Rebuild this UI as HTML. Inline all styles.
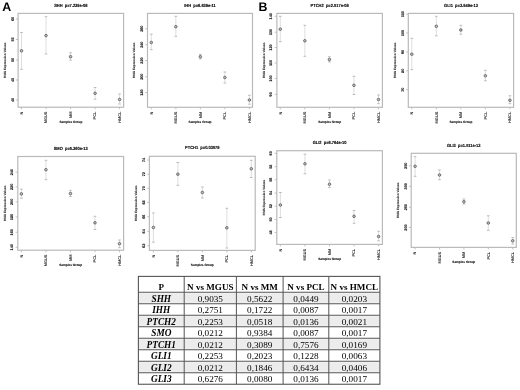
<!DOCTYPE html>
<html><head><meta charset="utf-8"><style>
html,body{margin:0;padding:0;background:#fff;}
body{width:520px;height:390px;overflow:hidden;}
svg{display:block;will-change:transform;}
.g text{text-rendering:geometricPrecision;}
.ti{white-space:pre;font-family:"Liberation Sans",sans-serif;font-weight:bold;font-size:4.45px;text-anchor:middle;fill:#000;stroke:#000;stroke-width:0.12px;}
.yt{font-family:"Liberation Sans",sans-serif;font-weight:bold;font-size:3.8px;text-anchor:middle;fill:#111;stroke:#111;stroke-width:0.1px;}
.yl{font-family:"Liberation Sans",sans-serif;font-weight:bold;font-size:3.15px;text-anchor:middle;fill:#333;stroke:#333;stroke-width:0.08px;}
.xt{font-family:"Liberation Sans",sans-serif;font-weight:bold;font-size:3.9px;text-anchor:end;fill:#111;}
.xl{font-family:"Liberation Sans",sans-serif;font-weight:bold;font-size:3.1px;text-anchor:middle;fill:#111;stroke:#111;stroke-width:0.1px;}
.pl{font-family:"Liberation Sans",sans-serif;font-weight:bold;font-size:12.4px;fill:#000;}
.th{font-family:"Liberation Serif",serif;font-weight:bold;font-size:9.1px;text-anchor:middle;fill:#000;}
.tg{font-family:"Liberation Serif",serif;font-weight:bold;font-style:italic;font-size:9.3px;text-anchor:middle;fill:#000;}
.tv{font-family:"Liberation Serif",serif;font-size:9.2px;text-anchor:middle;fill:#000;}
</style></head><body>
<svg width="520" height="390" viewBox="0 0 520 390">
<g class="g">
<text transform="translate(70.85,6.55) scale(0.9,1)" class="ti">SHH  p=7.239e-08</text>
<rect x="18.10" y="13.40" width="105.50" height="93.80" fill="none" stroke="#bababa" stroke-width="1.2"/>
<line x1="15.90" y1="19.00" x2="18.10" y2="19.00" stroke="#bababa" stroke-width="0.9"/>
<text transform="translate(13.50,19.00) rotate(-90)" class="yt">60</text>
<line x1="15.90" y1="39.50" x2="18.10" y2="39.50" stroke="#bababa" stroke-width="0.9"/>
<text transform="translate(13.50,39.50) rotate(-90)" class="yt">55</text>
<line x1="15.90" y1="60.00" x2="18.10" y2="60.00" stroke="#bababa" stroke-width="0.9"/>
<text transform="translate(13.50,60.00) rotate(-90)" class="yt">50</text>
<line x1="15.90" y1="80.00" x2="18.10" y2="80.00" stroke="#bababa" stroke-width="0.9"/>
<text transform="translate(13.50,80.00) rotate(-90)" class="yt">45</text>
<line x1="15.90" y1="100.00" x2="18.10" y2="100.00" stroke="#bababa" stroke-width="0.9"/>
<text transform="translate(13.50,100.00) rotate(-90)" class="yt">40</text>
<text transform="translate(5.90,60.30) rotate(-90)" class="yl">RMA Expression Values</text>
<line x1="21.50" y1="107.20" x2="21.50" y2="109.20" stroke="#bababa" stroke-width="0.9"/>
<text transform="translate(22.80,111.60) rotate(-90)" class="xt">N</text>
<line x1="46.02" y1="107.20" x2="46.02" y2="109.20" stroke="#bababa" stroke-width="0.9"/>
<text transform="translate(47.32,111.60) rotate(-90)" class="xt">MGUS</text>
<line x1="70.55" y1="107.20" x2="70.55" y2="109.20" stroke="#bababa" stroke-width="0.9"/>
<text transform="translate(71.85,111.60) rotate(-90)" class="xt">MM</text>
<line x1="95.07" y1="107.20" x2="95.07" y2="109.20" stroke="#bababa" stroke-width="0.9"/>
<text transform="translate(96.37,111.60) rotate(-90)" class="xt">PCL</text>
<line x1="119.60" y1="107.20" x2="119.60" y2="109.20" stroke="#bababa" stroke-width="0.9"/>
<text transform="translate(120.90,111.60) rotate(-90)" class="xt">HMCL</text>
<text x="70.85" y="122.90" class="xl">Samples Group</text>
<line x1="21.50" y1="32.50" x2="21.50" y2="69.30" stroke="#d0d0d0" stroke-width="0.7"/>
<line x1="20.20" y1="32.50" x2="22.80" y2="32.50" stroke="#b4b4b4" stroke-width="0.9"/>
<line x1="20.20" y1="69.30" x2="22.80" y2="69.30" stroke="#b4b4b4" stroke-width="0.9"/>
<circle cx="21.50" cy="50.80" r="1.3" fill="#c0c0c0" stroke="#505050" stroke-width="0.75"/>
<line x1="46.02" y1="16.70" x2="46.02" y2="53.90" stroke="#d0d0d0" stroke-width="0.7"/>
<line x1="44.73" y1="16.70" x2="47.32" y2="16.70" stroke="#b4b4b4" stroke-width="0.9"/>
<line x1="44.73" y1="53.90" x2="47.32" y2="53.90" stroke="#b4b4b4" stroke-width="0.9"/>
<circle cx="46.02" cy="35.60" r="1.3" fill="#c0c0c0" stroke="#505050" stroke-width="0.75"/>
<line x1="70.55" y1="52.70" x2="70.55" y2="60.20" stroke="#d0d0d0" stroke-width="0.7"/>
<line x1="69.25" y1="52.70" x2="71.85" y2="52.70" stroke="#b4b4b4" stroke-width="0.9"/>
<line x1="69.25" y1="60.20" x2="71.85" y2="60.20" stroke="#b4b4b4" stroke-width="0.9"/>
<circle cx="70.55" cy="56.70" r="1.3" fill="#c0c0c0" stroke="#505050" stroke-width="0.75"/>
<line x1="95.07" y1="87.50" x2="95.07" y2="99.20" stroke="#d0d0d0" stroke-width="0.7"/>
<line x1="93.77" y1="87.50" x2="96.37" y2="87.50" stroke="#b4b4b4" stroke-width="0.9"/>
<line x1="93.77" y1="99.20" x2="96.37" y2="99.20" stroke="#b4b4b4" stroke-width="0.9"/>
<circle cx="95.07" cy="93.30" r="1.3" fill="#c0c0c0" stroke="#505050" stroke-width="0.75"/>
<line x1="119.60" y1="94.00" x2="119.60" y2="104.00" stroke="#d0d0d0" stroke-width="0.7"/>
<line x1="118.30" y1="94.00" x2="120.90" y2="94.00" stroke="#b4b4b4" stroke-width="0.9"/>
<line x1="118.30" y1="104.00" x2="120.90" y2="104.00" stroke="#b4b4b4" stroke-width="0.9"/>
<circle cx="119.60" cy="99.50" r="1.3" fill="#c0c0c0" stroke="#505050" stroke-width="0.75"/>
<text transform="translate(200.00,6.55) scale(0.9,1)" class="ti">IHH  p=6.639e-11</text>
<rect x="147.50" y="13.40" width="105.00" height="93.90" fill="none" stroke="#bababa" stroke-width="1.2"/>
<line x1="145.30" y1="28.70" x2="147.50" y2="28.70" stroke="#bababa" stroke-width="0.9"/>
<text transform="translate(142.90,28.70) rotate(-90)" class="yt">260</text>
<line x1="145.30" y1="44.70" x2="147.50" y2="44.70" stroke="#bababa" stroke-width="0.9"/>
<text transform="translate(142.90,44.70) rotate(-90)" class="yt">240</text>
<line x1="145.30" y1="60.50" x2="147.50" y2="60.50" stroke="#bababa" stroke-width="0.9"/>
<text transform="translate(142.90,60.50) rotate(-90)" class="yt">220</text>
<line x1="145.30" y1="76.70" x2="147.50" y2="76.70" stroke="#bababa" stroke-width="0.9"/>
<text transform="translate(142.90,76.70) rotate(-90)" class="yt">200</text>
<line x1="145.30" y1="92.50" x2="147.50" y2="92.50" stroke="#bababa" stroke-width="0.9"/>
<text transform="translate(142.90,92.50) rotate(-90)" class="yt">180</text>
<text transform="translate(135.30,60.35) rotate(-90)" class="yl">RMA Expression Values</text>
<line x1="151.30" y1="107.30" x2="151.30" y2="109.30" stroke="#bababa" stroke-width="0.9"/>
<text transform="translate(152.60,111.70) rotate(-90)" class="xt">N</text>
<line x1="175.83" y1="107.30" x2="175.83" y2="109.30" stroke="#bababa" stroke-width="0.9"/>
<text transform="translate(177.13,111.70) rotate(-90)" class="xt">MGUS</text>
<line x1="200.35" y1="107.30" x2="200.35" y2="109.30" stroke="#bababa" stroke-width="0.9"/>
<text transform="translate(201.65,111.70) rotate(-90)" class="xt">MM</text>
<line x1="224.88" y1="107.30" x2="224.88" y2="109.30" stroke="#bababa" stroke-width="0.9"/>
<text transform="translate(226.18,111.70) rotate(-90)" class="xt">PCL</text>
<line x1="249.40" y1="107.30" x2="249.40" y2="109.30" stroke="#bababa" stroke-width="0.9"/>
<text transform="translate(250.70,111.70) rotate(-90)" class="xt">HMCL</text>
<text x="200.00" y="123.00" class="xl">Samples Group</text>
<line x1="151.30" y1="34.20" x2="151.30" y2="49.70" stroke="#d0d0d0" stroke-width="0.7"/>
<line x1="150.00" y1="34.20" x2="152.60" y2="34.20" stroke="#b4b4b4" stroke-width="0.9"/>
<line x1="150.00" y1="49.70" x2="152.60" y2="49.70" stroke="#b4b4b4" stroke-width="0.9"/>
<circle cx="151.30" cy="42.50" r="1.3" fill="#c0c0c0" stroke="#505050" stroke-width="0.75"/>
<line x1="175.83" y1="16.30" x2="175.83" y2="36.30" stroke="#d0d0d0" stroke-width="0.7"/>
<line x1="174.53" y1="16.30" x2="177.13" y2="16.30" stroke="#b4b4b4" stroke-width="0.9"/>
<line x1="174.53" y1="36.30" x2="177.13" y2="36.30" stroke="#b4b4b4" stroke-width="0.9"/>
<circle cx="175.83" cy="26.70" r="1.3" fill="#c0c0c0" stroke="#505050" stroke-width="0.75"/>
<line x1="200.35" y1="54.50" x2="200.35" y2="58.90" stroke="#d0d0d0" stroke-width="0.7"/>
<line x1="199.05" y1="54.50" x2="201.65" y2="54.50" stroke="#b4b4b4" stroke-width="0.9"/>
<line x1="199.05" y1="58.90" x2="201.65" y2="58.90" stroke="#b4b4b4" stroke-width="0.9"/>
<circle cx="200.35" cy="56.70" r="1.3" fill="#c0c0c0" stroke="#505050" stroke-width="0.75"/>
<line x1="224.88" y1="72.00" x2="224.88" y2="83.00" stroke="#d0d0d0" stroke-width="0.7"/>
<line x1="223.57" y1="72.00" x2="226.18" y2="72.00" stroke="#b4b4b4" stroke-width="0.9"/>
<line x1="223.57" y1="83.00" x2="226.18" y2="83.00" stroke="#b4b4b4" stroke-width="0.9"/>
<circle cx="224.88" cy="77.50" r="1.3" fill="#c0c0c0" stroke="#505050" stroke-width="0.75"/>
<line x1="249.40" y1="95.30" x2="249.40" y2="104.20" stroke="#d0d0d0" stroke-width="0.7"/>
<line x1="248.10" y1="95.30" x2="250.70" y2="95.30" stroke="#b4b4b4" stroke-width="0.9"/>
<line x1="248.10" y1="104.20" x2="250.70" y2="104.20" stroke="#b4b4b4" stroke-width="0.9"/>
<circle cx="249.40" cy="100.00" r="1.3" fill="#c0c0c0" stroke="#505050" stroke-width="0.75"/>
<text transform="translate(329.65,6.55) scale(0.9,1)" class="ti">PTCH2  p=2.517e-08</text>
<rect x="276.90" y="13.40" width="105.50" height="93.90" fill="none" stroke="#bababa" stroke-width="1.2"/>
<line x1="274.70" y1="16.30" x2="276.90" y2="16.30" stroke="#bababa" stroke-width="0.9"/>
<text transform="translate(272.30,16.30) rotate(-90)" class="yt">140</text>
<line x1="274.70" y1="32.20" x2="276.90" y2="32.20" stroke="#bababa" stroke-width="0.9"/>
<text transform="translate(272.30,32.20) rotate(-90)" class="yt">130</text>
<line x1="274.70" y1="47.50" x2="276.90" y2="47.50" stroke="#bababa" stroke-width="0.9"/>
<text transform="translate(272.30,47.50) rotate(-90)" class="yt">120</text>
<line x1="274.70" y1="63.00" x2="276.90" y2="63.00" stroke="#bababa" stroke-width="0.9"/>
<text transform="translate(272.30,63.00) rotate(-90)" class="yt">110</text>
<line x1="274.70" y1="78.50" x2="276.90" y2="78.50" stroke="#bababa" stroke-width="0.9"/>
<text transform="translate(272.30,78.50) rotate(-90)" class="yt">100</text>
<line x1="274.70" y1="94.30" x2="276.90" y2="94.30" stroke="#bababa" stroke-width="0.9"/>
<text transform="translate(272.30,94.30) rotate(-90)" class="yt">90</text>
<text transform="translate(264.70,60.35) rotate(-90)" class="yl">RMA Expression Values</text>
<line x1="280.30" y1="107.30" x2="280.30" y2="109.30" stroke="#bababa" stroke-width="0.9"/>
<text transform="translate(281.60,111.70) rotate(-90)" class="xt">N</text>
<line x1="304.85" y1="107.30" x2="304.85" y2="109.30" stroke="#bababa" stroke-width="0.9"/>
<text transform="translate(306.15,111.70) rotate(-90)" class="xt">MGUS</text>
<line x1="329.40" y1="107.30" x2="329.40" y2="109.30" stroke="#bababa" stroke-width="0.9"/>
<text transform="translate(330.70,111.70) rotate(-90)" class="xt">MM</text>
<line x1="353.95" y1="107.30" x2="353.95" y2="109.30" stroke="#bababa" stroke-width="0.9"/>
<text transform="translate(355.25,111.70) rotate(-90)" class="xt">PCL</text>
<line x1="378.50" y1="107.30" x2="378.50" y2="109.30" stroke="#bababa" stroke-width="0.9"/>
<text transform="translate(379.80,111.70) rotate(-90)" class="xt">HMCL</text>
<text x="329.65" y="123.00" class="xl">Samples Group</text>
<line x1="280.30" y1="16.30" x2="280.30" y2="41.70" stroke="#d0d0d0" stroke-width="0.7"/>
<line x1="279.00" y1="16.30" x2="281.60" y2="16.30" stroke="#b4b4b4" stroke-width="0.9"/>
<line x1="279.00" y1="41.70" x2="281.60" y2="41.70" stroke="#b4b4b4" stroke-width="0.9"/>
<circle cx="280.30" cy="29.20" r="1.3" fill="#c0c0c0" stroke="#505050" stroke-width="0.75"/>
<line x1="304.85" y1="25.30" x2="304.85" y2="56.30" stroke="#d0d0d0" stroke-width="0.7"/>
<line x1="303.55" y1="25.30" x2="306.15" y2="25.30" stroke="#b4b4b4" stroke-width="0.9"/>
<line x1="303.55" y1="56.30" x2="306.15" y2="56.30" stroke="#b4b4b4" stroke-width="0.9"/>
<circle cx="304.85" cy="40.80" r="1.3" fill="#c0c0c0" stroke="#505050" stroke-width="0.75"/>
<line x1="329.40" y1="56.70" x2="329.40" y2="62.00" stroke="#d0d0d0" stroke-width="0.7"/>
<line x1="328.10" y1="56.70" x2="330.70" y2="56.70" stroke="#b4b4b4" stroke-width="0.9"/>
<line x1="328.10" y1="62.00" x2="330.70" y2="62.00" stroke="#b4b4b4" stroke-width="0.9"/>
<circle cx="329.40" cy="59.50" r="1.3" fill="#c0c0c0" stroke="#505050" stroke-width="0.75"/>
<line x1="353.95" y1="76.30" x2="353.95" y2="94.50" stroke="#d0d0d0" stroke-width="0.7"/>
<line x1="352.65" y1="76.30" x2="355.25" y2="76.30" stroke="#b4b4b4" stroke-width="0.9"/>
<line x1="352.65" y1="94.50" x2="355.25" y2="94.50" stroke="#b4b4b4" stroke-width="0.9"/>
<circle cx="353.95" cy="85.30" r="1.3" fill="#c0c0c0" stroke="#505050" stroke-width="0.75"/>
<line x1="378.50" y1="95.00" x2="378.50" y2="103.70" stroke="#d0d0d0" stroke-width="0.7"/>
<line x1="377.20" y1="95.00" x2="379.80" y2="95.00" stroke="#b4b4b4" stroke-width="0.9"/>
<line x1="377.20" y1="103.70" x2="379.80" y2="103.70" stroke="#b4b4b4" stroke-width="0.9"/>
<circle cx="378.50" cy="99.50" r="1.3" fill="#c0c0c0" stroke="#505050" stroke-width="0.75"/>
<text transform="translate(460.95,6.55) scale(0.9,1)" class="ti">GLI1  p=3.949e-13</text>
<rect x="408.30" y="13.40" width="105.30" height="93.90" fill="none" stroke="#bababa" stroke-width="1.2"/>
<line x1="406.10" y1="14.20" x2="408.30" y2="14.20" stroke="#bababa" stroke-width="0.9"/>
<text transform="translate(403.70,14.20) rotate(-90)" class="yt">110</text>
<line x1="406.10" y1="33.00" x2="408.30" y2="33.00" stroke="#bababa" stroke-width="0.9"/>
<text transform="translate(403.70,33.00) rotate(-90)" class="yt">100</text>
<line x1="406.10" y1="52.00" x2="408.30" y2="52.00" stroke="#bababa" stroke-width="0.9"/>
<text transform="translate(403.70,52.00) rotate(-90)" class="yt">90</text>
<line x1="406.10" y1="70.80" x2="408.30" y2="70.80" stroke="#bababa" stroke-width="0.9"/>
<text transform="translate(403.70,70.80) rotate(-90)" class="yt">80</text>
<line x1="406.10" y1="89.70" x2="408.30" y2="89.70" stroke="#bababa" stroke-width="0.9"/>
<text transform="translate(403.70,89.70) rotate(-90)" class="yt">70</text>
<text transform="translate(396.10,60.35) rotate(-90)" class="yl">RMA Expression Values</text>
<line x1="411.80" y1="107.30" x2="411.80" y2="109.30" stroke="#bababa" stroke-width="0.9"/>
<text transform="translate(413.10,111.70) rotate(-90)" class="xt">N</text>
<line x1="436.32" y1="107.30" x2="436.32" y2="109.30" stroke="#bababa" stroke-width="0.9"/>
<text transform="translate(437.62,111.70) rotate(-90)" class="xt">MGUS</text>
<line x1="460.85" y1="107.30" x2="460.85" y2="109.30" stroke="#bababa" stroke-width="0.9"/>
<text transform="translate(462.15,111.70) rotate(-90)" class="xt">MM</text>
<line x1="485.38" y1="107.30" x2="485.38" y2="109.30" stroke="#bababa" stroke-width="0.9"/>
<text transform="translate(486.68,111.70) rotate(-90)" class="xt">PCL</text>
<line x1="509.90" y1="107.30" x2="509.90" y2="109.30" stroke="#bababa" stroke-width="0.9"/>
<text transform="translate(511.20,111.70) rotate(-90)" class="xt">HMCL</text>
<text x="460.95" y="123.00" class="xl">Samples Group</text>
<line x1="411.80" y1="38.30" x2="411.80" y2="69.70" stroke="#d0d0d0" stroke-width="0.7"/>
<line x1="410.50" y1="38.30" x2="413.10" y2="38.30" stroke="#b4b4b4" stroke-width="0.9"/>
<line x1="410.50" y1="69.70" x2="413.10" y2="69.70" stroke="#b4b4b4" stroke-width="0.9"/>
<circle cx="411.80" cy="54.20" r="1.3" fill="#c0c0c0" stroke="#505050" stroke-width="0.75"/>
<line x1="436.32" y1="16.30" x2="436.32" y2="35.80" stroke="#d0d0d0" stroke-width="0.7"/>
<line x1="435.02" y1="16.30" x2="437.62" y2="16.30" stroke="#b4b4b4" stroke-width="0.9"/>
<line x1="435.02" y1="35.80" x2="437.62" y2="35.80" stroke="#b4b4b4" stroke-width="0.9"/>
<circle cx="436.32" cy="26.30" r="1.3" fill="#c0c0c0" stroke="#505050" stroke-width="0.75"/>
<line x1="460.85" y1="25.30" x2="460.85" y2="34.20" stroke="#d0d0d0" stroke-width="0.7"/>
<line x1="459.55" y1="25.30" x2="462.15" y2="25.30" stroke="#b4b4b4" stroke-width="0.9"/>
<line x1="459.55" y1="34.20" x2="462.15" y2="34.20" stroke="#b4b4b4" stroke-width="0.9"/>
<circle cx="460.85" cy="30.00" r="1.3" fill="#c0c0c0" stroke="#505050" stroke-width="0.75"/>
<line x1="485.38" y1="70.30" x2="485.38" y2="80.80" stroke="#d0d0d0" stroke-width="0.7"/>
<line x1="484.07" y1="70.30" x2="486.68" y2="70.30" stroke="#b4b4b4" stroke-width="0.9"/>
<line x1="484.07" y1="80.80" x2="486.68" y2="80.80" stroke="#b4b4b4" stroke-width="0.9"/>
<circle cx="485.38" cy="75.80" r="1.3" fill="#c0c0c0" stroke="#505050" stroke-width="0.75"/>
<line x1="509.90" y1="95.80" x2="509.90" y2="103.70" stroke="#d0d0d0" stroke-width="0.7"/>
<line x1="508.60" y1="95.80" x2="511.20" y2="95.80" stroke="#b4b4b4" stroke-width="0.9"/>
<line x1="508.60" y1="103.70" x2="511.20" y2="103.70" stroke="#b4b4b4" stroke-width="0.9"/>
<circle cx="509.90" cy="100.30" r="1.3" fill="#c0c0c0" stroke="#505050" stroke-width="0.75"/>
<text transform="translate(70.70,149.65) scale(0.9,1)" class="ti">SMO  p=5.360e-13</text>
<rect x="17.80" y="156.50" width="105.80" height="93.70" fill="none" stroke="#bababa" stroke-width="1.2"/>
<line x1="15.60" y1="172.20" x2="17.80" y2="172.20" stroke="#bababa" stroke-width="0.9"/>
<text transform="translate(13.20,172.20) rotate(-90)" class="yt">240</text>
<line x1="15.60" y1="186.90" x2="17.80" y2="186.90" stroke="#bababa" stroke-width="0.9"/>
<text transform="translate(13.20,186.90) rotate(-90)" class="yt">220</text>
<line x1="15.60" y1="201.90" x2="17.80" y2="201.90" stroke="#bababa" stroke-width="0.9"/>
<text transform="translate(13.20,201.90) rotate(-90)" class="yt">200</text>
<line x1="15.60" y1="217.00" x2="17.80" y2="217.00" stroke="#bababa" stroke-width="0.9"/>
<text transform="translate(13.20,217.00) rotate(-90)" class="yt">180</text>
<line x1="15.60" y1="232.30" x2="17.80" y2="232.30" stroke="#bababa" stroke-width="0.9"/>
<text transform="translate(13.20,232.30) rotate(-90)" class="yt">160</text>
<line x1="15.60" y1="247.30" x2="17.80" y2="247.30" stroke="#bababa" stroke-width="0.9"/>
<text transform="translate(13.20,247.30) rotate(-90)" class="yt">140</text>
<text transform="translate(5.60,203.35) rotate(-90)" class="yl">RMA Expression Values</text>
<line x1="21.40" y1="250.20" x2="21.40" y2="252.20" stroke="#bababa" stroke-width="0.9"/>
<text transform="translate(22.70,254.60) rotate(-90)" class="xt">N</text>
<line x1="45.92" y1="250.20" x2="45.92" y2="252.20" stroke="#bababa" stroke-width="0.9"/>
<text transform="translate(47.22,254.60) rotate(-90)" class="xt">MGUS</text>
<line x1="70.45" y1="250.20" x2="70.45" y2="252.20" stroke="#bababa" stroke-width="0.9"/>
<text transform="translate(71.75,254.60) rotate(-90)" class="xt">MM</text>
<line x1="94.97" y1="250.20" x2="94.97" y2="252.20" stroke="#bababa" stroke-width="0.9"/>
<text transform="translate(96.27,254.60) rotate(-90)" class="xt">PCL</text>
<line x1="119.50" y1="250.20" x2="119.50" y2="252.20" stroke="#bababa" stroke-width="0.9"/>
<text transform="translate(120.80,254.60) rotate(-90)" class="xt">HMCL</text>
<text x="70.70" y="265.90" class="xl">Samples Group</text>
<line x1="21.40" y1="189.20" x2="21.40" y2="198.20" stroke="#d0d0d0" stroke-width="0.7"/>
<line x1="20.10" y1="189.20" x2="22.70" y2="189.20" stroke="#b4b4b4" stroke-width="0.9"/>
<line x1="20.10" y1="198.20" x2="22.70" y2="198.20" stroke="#b4b4b4" stroke-width="0.9"/>
<circle cx="21.40" cy="193.90" r="1.3" fill="#c0c0c0" stroke="#505050" stroke-width="0.75"/>
<line x1="45.92" y1="160.30" x2="45.92" y2="179.70" stroke="#d0d0d0" stroke-width="0.7"/>
<line x1="44.62" y1="160.30" x2="47.22" y2="160.30" stroke="#b4b4b4" stroke-width="0.9"/>
<line x1="44.62" y1="179.70" x2="47.22" y2="179.70" stroke="#b4b4b4" stroke-width="0.9"/>
<circle cx="45.92" cy="169.70" r="1.3" fill="#c0c0c0" stroke="#505050" stroke-width="0.75"/>
<line x1="70.45" y1="190.30" x2="70.45" y2="196.40" stroke="#d0d0d0" stroke-width="0.7"/>
<line x1="69.15" y1="190.30" x2="71.75" y2="190.30" stroke="#b4b4b4" stroke-width="0.9"/>
<line x1="69.15" y1="196.40" x2="71.75" y2="196.40" stroke="#b4b4b4" stroke-width="0.9"/>
<circle cx="70.45" cy="193.50" r="1.3" fill="#c0c0c0" stroke="#505050" stroke-width="0.75"/>
<line x1="94.97" y1="216.30" x2="94.97" y2="229.50" stroke="#d0d0d0" stroke-width="0.7"/>
<line x1="93.67" y1="216.30" x2="96.27" y2="216.30" stroke="#b4b4b4" stroke-width="0.9"/>
<line x1="93.67" y1="229.50" x2="96.27" y2="229.50" stroke="#b4b4b4" stroke-width="0.9"/>
<circle cx="94.97" cy="222.80" r="1.3" fill="#c0c0c0" stroke="#505050" stroke-width="0.75"/>
<line x1="119.50" y1="240.00" x2="119.50" y2="247.70" stroke="#d0d0d0" stroke-width="0.7"/>
<line x1="118.20" y1="240.00" x2="120.80" y2="240.00" stroke="#b4b4b4" stroke-width="0.9"/>
<line x1="118.20" y1="247.70" x2="120.80" y2="247.70" stroke="#b4b4b4" stroke-width="0.9"/>
<circle cx="119.50" cy="243.70" r="1.3" fill="#c0c0c0" stroke="#505050" stroke-width="0.75"/>
<text transform="translate(202.30,149.45) scale(0.9,1)" class="ti">PTCH1  p=0.03579</text>
<rect x="149.40" y="156.30" width="105.80" height="94.10" fill="none" stroke="#bababa" stroke-width="1.2"/>
<line x1="147.20" y1="160.00" x2="149.40" y2="160.00" stroke="#bababa" stroke-width="0.9"/>
<text transform="translate(144.80,160.00) rotate(-90)" class="yt">74</text>
<line x1="147.20" y1="174.20" x2="149.40" y2="174.20" stroke="#bababa" stroke-width="0.9"/>
<text transform="translate(144.80,174.20) rotate(-90)" class="yt">72</text>
<line x1="147.20" y1="188.30" x2="149.40" y2="188.30" stroke="#bababa" stroke-width="0.9"/>
<text transform="translate(144.80,188.30) rotate(-90)" class="yt">70</text>
<line x1="147.20" y1="202.50" x2="149.40" y2="202.50" stroke="#bababa" stroke-width="0.9"/>
<text transform="translate(144.80,202.50) rotate(-90)" class="yt">68</text>
<line x1="147.20" y1="216.70" x2="149.40" y2="216.70" stroke="#bababa" stroke-width="0.9"/>
<text transform="translate(144.80,216.70) rotate(-90)" class="yt">66</text>
<line x1="147.20" y1="231.30" x2="149.40" y2="231.30" stroke="#bababa" stroke-width="0.9"/>
<text transform="translate(144.80,231.30) rotate(-90)" class="yt">64</text>
<line x1="147.20" y1="245.80" x2="149.40" y2="245.80" stroke="#bababa" stroke-width="0.9"/>
<text transform="translate(144.80,245.80) rotate(-90)" class="yt">62</text>
<text transform="translate(137.20,203.35) rotate(-90)" class="yl">RMA Expression Values</text>
<line x1="153.40" y1="250.40" x2="153.40" y2="252.40" stroke="#bababa" stroke-width="0.9"/>
<text transform="translate(154.70,254.80) rotate(-90)" class="xt">N</text>
<line x1="177.88" y1="250.40" x2="177.88" y2="252.40" stroke="#bababa" stroke-width="0.9"/>
<text transform="translate(179.18,254.80) rotate(-90)" class="xt">MGUS</text>
<line x1="202.35" y1="250.40" x2="202.35" y2="252.40" stroke="#bababa" stroke-width="0.9"/>
<text transform="translate(203.65,254.80) rotate(-90)" class="xt">MM</text>
<line x1="226.83" y1="250.40" x2="226.83" y2="252.40" stroke="#bababa" stroke-width="0.9"/>
<text transform="translate(228.13,254.80) rotate(-90)" class="xt">PCL</text>
<line x1="251.30" y1="250.40" x2="251.30" y2="252.40" stroke="#bababa" stroke-width="0.9"/>
<text transform="translate(252.60,254.80) rotate(-90)" class="xt">HMCL</text>
<text x="202.30" y="266.10" class="xl">Samples Group</text>
<line x1="153.40" y1="213.00" x2="153.40" y2="242.20" stroke="#d0d0d0" stroke-width="0.7"/>
<line x1="152.10" y1="213.00" x2="154.70" y2="213.00" stroke="#b4b4b4" stroke-width="0.9"/>
<line x1="152.10" y1="242.20" x2="154.70" y2="242.20" stroke="#b4b4b4" stroke-width="0.9"/>
<circle cx="153.40" cy="227.50" r="1.3" fill="#c0c0c0" stroke="#505050" stroke-width="0.75"/>
<line x1="177.88" y1="162.50" x2="177.88" y2="185.30" stroke="#d0d0d0" stroke-width="0.7"/>
<line x1="176.57" y1="162.50" x2="179.18" y2="162.50" stroke="#b4b4b4" stroke-width="0.9"/>
<line x1="176.57" y1="185.30" x2="179.18" y2="185.30" stroke="#b4b4b4" stroke-width="0.9"/>
<circle cx="177.88" cy="174.20" r="1.3" fill="#c0c0c0" stroke="#505050" stroke-width="0.75"/>
<line x1="202.35" y1="187.00" x2="202.35" y2="198.00" stroke="#d0d0d0" stroke-width="0.7"/>
<line x1="201.05" y1="187.00" x2="203.65" y2="187.00" stroke="#b4b4b4" stroke-width="0.9"/>
<line x1="201.05" y1="198.00" x2="203.65" y2="198.00" stroke="#b4b4b4" stroke-width="0.9"/>
<circle cx="202.35" cy="192.50" r="1.3" fill="#c0c0c0" stroke="#505050" stroke-width="0.75"/>
<line x1="226.83" y1="208.30" x2="226.83" y2="248.00" stroke="#d0d0d0" stroke-width="0.7"/>
<line x1="225.53" y1="208.30" x2="228.13" y2="208.30" stroke="#b4b4b4" stroke-width="0.9"/>
<line x1="225.53" y1="248.00" x2="228.13" y2="248.00" stroke="#b4b4b4" stroke-width="0.9"/>
<circle cx="226.83" cy="227.80" r="1.3" fill="#c0c0c0" stroke="#505050" stroke-width="0.75"/>
<line x1="251.30" y1="160.30" x2="251.30" y2="177.50" stroke="#d0d0d0" stroke-width="0.7"/>
<line x1="250.00" y1="160.30" x2="252.60" y2="160.30" stroke="#b4b4b4" stroke-width="0.9"/>
<line x1="250.00" y1="177.50" x2="252.60" y2="177.50" stroke="#b4b4b4" stroke-width="0.9"/>
<circle cx="251.30" cy="168.80" r="1.3" fill="#c0c0c0" stroke="#505050" stroke-width="0.75"/>
<text transform="translate(329.60,143.85) scale(0.9,1)" class="ti">GLI2  p=6.764e-10</text>
<rect x="276.80" y="150.70" width="105.60" height="93.70" fill="none" stroke="#bababa" stroke-width="1.2"/>
<line x1="274.60" y1="153.30" x2="276.80" y2="153.30" stroke="#bababa" stroke-width="0.9"/>
<text transform="translate(272.20,153.30) rotate(-90)" class="yt">60</text>
<line x1="274.60" y1="166.70" x2="276.80" y2="166.70" stroke="#bababa" stroke-width="0.9"/>
<text transform="translate(272.20,166.70) rotate(-90)" class="yt">58</text>
<line x1="274.60" y1="179.70" x2="276.80" y2="179.70" stroke="#bababa" stroke-width="0.9"/>
<text transform="translate(272.20,179.70) rotate(-90)" class="yt">56</text>
<line x1="274.60" y1="193.00" x2="276.80" y2="193.00" stroke="#bababa" stroke-width="0.9"/>
<text transform="translate(272.20,193.00) rotate(-90)" class="yt">54</text>
<line x1="274.60" y1="206.20" x2="276.80" y2="206.20" stroke="#bababa" stroke-width="0.9"/>
<text transform="translate(272.20,206.20) rotate(-90)" class="yt">52</text>
<line x1="274.60" y1="219.50" x2="276.80" y2="219.50" stroke="#bababa" stroke-width="0.9"/>
<text transform="translate(272.20,219.50) rotate(-90)" class="yt">50</text>
<line x1="274.60" y1="232.50" x2="276.80" y2="232.50" stroke="#bababa" stroke-width="0.9"/>
<text transform="translate(272.20,232.50) rotate(-90)" class="yt">48</text>
<text transform="translate(264.60,197.55) rotate(-90)" class="yl">RMA Expression Values</text>
<line x1="280.40" y1="244.40" x2="280.40" y2="246.40" stroke="#bababa" stroke-width="0.9"/>
<text transform="translate(281.70,248.80) rotate(-90)" class="xt">N</text>
<line x1="304.95" y1="244.40" x2="304.95" y2="246.40" stroke="#bababa" stroke-width="0.9"/>
<text transform="translate(306.25,248.80) rotate(-90)" class="xt">MGUS</text>
<line x1="329.50" y1="244.40" x2="329.50" y2="246.40" stroke="#bababa" stroke-width="0.9"/>
<text transform="translate(330.80,248.80) rotate(-90)" class="xt">MM</text>
<line x1="354.05" y1="244.40" x2="354.05" y2="246.40" stroke="#bababa" stroke-width="0.9"/>
<text transform="translate(355.35,248.80) rotate(-90)" class="xt">PCL</text>
<line x1="378.60" y1="244.40" x2="378.60" y2="246.40" stroke="#bababa" stroke-width="0.9"/>
<text transform="translate(379.90,248.80) rotate(-90)" class="xt">HMCL</text>
<text x="329.60" y="260.10" class="xl">Samples Group</text>
<line x1="280.40" y1="192.50" x2="280.40" y2="217.50" stroke="#d0d0d0" stroke-width="0.7"/>
<line x1="279.10" y1="192.50" x2="281.70" y2="192.50" stroke="#b4b4b4" stroke-width="0.9"/>
<line x1="279.10" y1="217.50" x2="281.70" y2="217.50" stroke="#b4b4b4" stroke-width="0.9"/>
<circle cx="280.40" cy="205.00" r="1.3" fill="#c0c0c0" stroke="#505050" stroke-width="0.75"/>
<line x1="304.95" y1="154.20" x2="304.95" y2="173.80" stroke="#d0d0d0" stroke-width="0.7"/>
<line x1="303.65" y1="154.20" x2="306.25" y2="154.20" stroke="#b4b4b4" stroke-width="0.9"/>
<line x1="303.65" y1="173.80" x2="306.25" y2="173.80" stroke="#b4b4b4" stroke-width="0.9"/>
<circle cx="304.95" cy="163.80" r="1.3" fill="#c0c0c0" stroke="#505050" stroke-width="0.75"/>
<line x1="329.50" y1="180.00" x2="329.50" y2="187.50" stroke="#d0d0d0" stroke-width="0.7"/>
<line x1="328.20" y1="180.00" x2="330.80" y2="180.00" stroke="#b4b4b4" stroke-width="0.9"/>
<line x1="328.20" y1="187.50" x2="330.80" y2="187.50" stroke="#b4b4b4" stroke-width="0.9"/>
<circle cx="329.50" cy="184.20" r="1.3" fill="#c0c0c0" stroke="#505050" stroke-width="0.75"/>
<line x1="354.05" y1="210.50" x2="354.05" y2="223.30" stroke="#d0d0d0" stroke-width="0.7"/>
<line x1="352.75" y1="210.50" x2="355.35" y2="210.50" stroke="#b4b4b4" stroke-width="0.9"/>
<line x1="352.75" y1="223.30" x2="355.35" y2="223.30" stroke="#b4b4b4" stroke-width="0.9"/>
<circle cx="354.05" cy="216.30" r="1.3" fill="#c0c0c0" stroke="#505050" stroke-width="0.75"/>
<line x1="378.60" y1="231.30" x2="378.60" y2="240.80" stroke="#d0d0d0" stroke-width="0.7"/>
<line x1="377.30" y1="231.30" x2="379.90" y2="231.30" stroke="#b4b4b4" stroke-width="0.9"/>
<line x1="377.30" y1="240.80" x2="379.90" y2="240.80" stroke="#b4b4b4" stroke-width="0.9"/>
<circle cx="378.60" cy="236.50" r="1.3" fill="#c0c0c0" stroke="#505050" stroke-width="0.75"/>
<text transform="translate(463.75,146.95) scale(0.9,1)" class="ti">GLI3  p=1.511e-13</text>
<rect x="411.20" y="153.30" width="105.10" height="94.10" fill="none" stroke="#bababa" stroke-width="1.2"/>
<line x1="409.00" y1="165.80" x2="411.20" y2="165.80" stroke="#bababa" stroke-width="0.9"/>
<text transform="translate(406.60,165.80) rotate(-90)" class="yt">350</text>
<line x1="409.00" y1="186.30" x2="411.20" y2="186.30" stroke="#bababa" stroke-width="0.9"/>
<text transform="translate(406.60,186.30) rotate(-90)" class="yt">300</text>
<line x1="409.00" y1="207.20" x2="411.20" y2="207.20" stroke="#bababa" stroke-width="0.9"/>
<text transform="translate(406.60,207.20) rotate(-90)" class="yt">250</text>
<line x1="409.00" y1="227.50" x2="411.20" y2="227.50" stroke="#bababa" stroke-width="0.9"/>
<text transform="translate(406.60,227.50) rotate(-90)" class="yt">200</text>
<text transform="translate(399.00,200.35) rotate(-90)" class="yl">RMA Expression Values</text>
<line x1="415.10" y1="247.40" x2="415.10" y2="249.40" stroke="#bababa" stroke-width="0.9"/>
<text transform="translate(416.40,251.80) rotate(-90)" class="xt">N</text>
<line x1="439.50" y1="247.40" x2="439.50" y2="249.40" stroke="#bababa" stroke-width="0.9"/>
<text transform="translate(440.80,251.80) rotate(-90)" class="xt">MGUS</text>
<line x1="463.90" y1="247.40" x2="463.90" y2="249.40" stroke="#bababa" stroke-width="0.9"/>
<text transform="translate(465.20,251.80) rotate(-90)" class="xt">MM</text>
<line x1="488.30" y1="247.40" x2="488.30" y2="249.40" stroke="#bababa" stroke-width="0.9"/>
<text transform="translate(489.60,251.80) rotate(-90)" class="xt">PCL</text>
<line x1="512.70" y1="247.40" x2="512.70" y2="249.40" stroke="#bababa" stroke-width="0.9"/>
<text transform="translate(514.00,251.80) rotate(-90)" class="xt">HMCL</text>
<text x="463.75" y="263.10" class="xl">Samples Group</text>
<line x1="415.10" y1="156.70" x2="415.10" y2="176.30" stroke="#d0d0d0" stroke-width="0.7"/>
<line x1="413.80" y1="156.70" x2="416.40" y2="156.70" stroke="#b4b4b4" stroke-width="0.9"/>
<line x1="413.80" y1="176.30" x2="416.40" y2="176.30" stroke="#b4b4b4" stroke-width="0.9"/>
<circle cx="415.10" cy="166.30" r="1.3" fill="#c0c0c0" stroke="#505050" stroke-width="0.75"/>
<line x1="439.50" y1="170.00" x2="439.50" y2="179.70" stroke="#d0d0d0" stroke-width="0.7"/>
<line x1="438.20" y1="170.00" x2="440.80" y2="170.00" stroke="#b4b4b4" stroke-width="0.9"/>
<line x1="438.20" y1="179.70" x2="440.80" y2="179.70" stroke="#b4b4b4" stroke-width="0.9"/>
<circle cx="439.50" cy="175.00" r="1.3" fill="#c0c0c0" stroke="#505050" stroke-width="0.75"/>
<line x1="463.90" y1="199.00" x2="463.90" y2="204.00" stroke="#d0d0d0" stroke-width="0.7"/>
<line x1="462.60" y1="199.00" x2="465.20" y2="199.00" stroke="#b4b4b4" stroke-width="0.9"/>
<line x1="462.60" y1="204.00" x2="465.20" y2="204.00" stroke="#b4b4b4" stroke-width="0.9"/>
<circle cx="463.90" cy="201.70" r="1.3" fill="#c0c0c0" stroke="#505050" stroke-width="0.75"/>
<line x1="488.30" y1="215.80" x2="488.30" y2="230.30" stroke="#d0d0d0" stroke-width="0.7"/>
<line x1="487.00" y1="215.80" x2="489.60" y2="215.80" stroke="#b4b4b4" stroke-width="0.9"/>
<line x1="487.00" y1="230.30" x2="489.60" y2="230.30" stroke="#b4b4b4" stroke-width="0.9"/>
<circle cx="488.30" cy="223.00" r="1.3" fill="#c0c0c0" stroke="#505050" stroke-width="0.75"/>
<line x1="512.70" y1="237.50" x2="512.70" y2="244.00" stroke="#d0d0d0" stroke-width="0.7"/>
<line x1="511.40" y1="237.50" x2="514.00" y2="237.50" stroke="#b4b4b4" stroke-width="0.9"/>
<line x1="511.40" y1="244.00" x2="514.00" y2="244.00" stroke="#b4b4b4" stroke-width="0.9"/>
<circle cx="512.70" cy="240.80" r="1.3" fill="#c0c0c0" stroke="#505050" stroke-width="0.75"/>
<text x="2.2" y="10.7" class="pl">A</text>
<text x="258.5" y="10.7" class="pl">B</text>
</g>
<rect x="138.40" y="293.25" width="241.50" height="9.50" fill="#ececec"/>
<rect x="138.40" y="316.25" width="241.50" height="9.50" fill="#ececec"/>
<rect x="138.40" y="339.25" width="241.50" height="9.50" fill="#ececec"/>
<rect x="138.40" y="362.25" width="241.50" height="9.50" fill="#ececec"/>
<rect x="138.40" y="276.40" width="241.50" height="107.85" fill="none" stroke="#555" stroke-width="1.1"/>
<line x1="184.20" y1="276.40" x2="184.20" y2="384.25" stroke="#555" stroke-width="1.0"/>
<line x1="236.40" y1="276.40" x2="236.40" y2="384.25" stroke="#555" stroke-width="1.0"/>
<line x1="283.10" y1="276.40" x2="283.10" y2="384.25" stroke="#555" stroke-width="1.0"/>
<line x1="328.80" y1="276.40" x2="328.80" y2="384.25" stroke="#555" stroke-width="1.0"/>
<line x1="138.40" y1="292.25" x2="379.90" y2="292.25" stroke="#555" stroke-width="1.0"/>
<line x1="138.40" y1="303.75" x2="379.90" y2="303.75" stroke="#555" stroke-width="1.0"/>
<line x1="138.40" y1="315.25" x2="379.90" y2="315.25" stroke="#555" stroke-width="1.0"/>
<line x1="138.40" y1="326.75" x2="379.90" y2="326.75" stroke="#555" stroke-width="1.0"/>
<line x1="138.40" y1="338.25" x2="379.90" y2="338.25" stroke="#555" stroke-width="1.0"/>
<line x1="138.40" y1="349.75" x2="379.90" y2="349.75" stroke="#555" stroke-width="1.0"/>
<line x1="138.40" y1="361.25" x2="379.90" y2="361.25" stroke="#555" stroke-width="1.0"/>
<line x1="138.40" y1="372.75" x2="379.90" y2="372.75" stroke="#555" stroke-width="1.0"/>
<text x="161.30" y="290.05" class="th">P</text>
<text x="210.30" y="290.05" class="th">N vs MGUS</text>
<text x="259.75" y="290.05" class="th">N vs MM</text>
<text x="305.95" y="290.05" class="th">N vs PCL</text>
<text x="354.35" y="290.05" class="th">N vs HMCL</text>
<text x="161.30" y="301.55" class="tg">SHH</text>
<text x="210.30" y="301.55" class="tv">0,9035</text>
<text x="259.75" y="301.55" class="tv">0,5622</text>
<text x="305.95" y="301.55" class="tv">0,0449</text>
<text x="354.35" y="301.55" class="tv">0,0203</text>
<text x="161.30" y="313.05" class="tg">IHH</text>
<text x="210.30" y="313.05" class="tv">0,2751</text>
<text x="259.75" y="313.05" class="tv">0,1722</text>
<text x="305.95" y="313.05" class="tv">0,0087</text>
<text x="354.35" y="313.05" class="tv">0,0017</text>
<text x="161.30" y="324.55" class="tg">PTCH2</text>
<text x="210.30" y="324.55" class="tv">0,2253</text>
<text x="259.75" y="324.55" class="tv">0,0518</text>
<text x="305.95" y="324.55" class="tv">0,0136</text>
<text x="354.35" y="324.55" class="tv">0,0021</text>
<text x="161.30" y="336.05" class="tg">SMO</text>
<text x="210.30" y="336.05" class="tv">0,0212</text>
<text x="259.75" y="336.05" class="tv">0,9384</text>
<text x="305.95" y="336.05" class="tv">0,0087</text>
<text x="354.35" y="336.05" class="tv">0,0017</text>
<text x="161.30" y="347.55" class="tg">PTCH1</text>
<text x="210.30" y="347.55" class="tv">0,0212</text>
<text x="259.75" y="347.55" class="tv">0,3089</text>
<text x="305.95" y="347.55" class="tv">0,7576</text>
<text x="354.35" y="347.55" class="tv">0,0169</text>
<text x="161.30" y="359.05" class="tg">GLI1</text>
<text x="210.30" y="359.05" class="tv">0,2253</text>
<text x="259.75" y="359.05" class="tv">0,2023</text>
<text x="305.95" y="359.05" class="tv">0,1228</text>
<text x="354.35" y="359.05" class="tv">0,0063</text>
<text x="161.30" y="370.55" class="tg">GLI2</text>
<text x="210.30" y="370.55" class="tv">0,0212</text>
<text x="259.75" y="370.55" class="tv">0,1846</text>
<text x="305.95" y="370.55" class="tv">0,6434</text>
<text x="354.35" y="370.55" class="tv">0,0406</text>
<text x="161.30" y="382.05" class="tg">GLI3</text>
<text x="210.30" y="382.05" class="tv">0,6276</text>
<text x="259.75" y="382.05" class="tv">0,0080</text>
<text x="305.95" y="382.05" class="tv">0,0136</text>
<text x="354.35" y="382.05" class="tv">0,0017</text>
</svg>
</body></html>
